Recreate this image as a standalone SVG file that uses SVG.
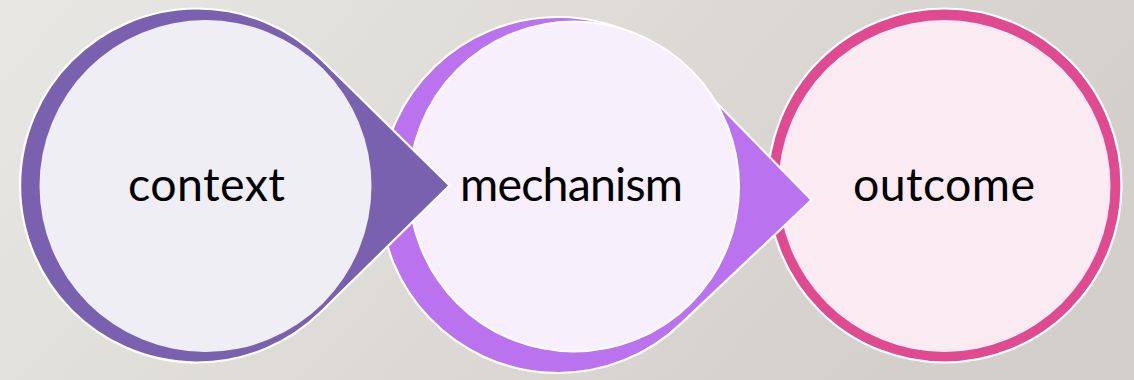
<svg xmlns="http://www.w3.org/2000/svg" width="1134" height="380" viewBox="0 0 1134 380">
  <defs>
    <linearGradient id="bg" x1="0" y1="0" x2="1" y2="0.3">
      <stop offset="0" stop-color="#E9E7E3"/>
      <stop offset="1" stop-color="#D3D0CB"/>
    </linearGradient>
  </defs>
  <style>
    .outer { stroke: #FFFFFF; stroke-width: 2.2; stroke-linejoin: miter; }
    .label { font-family: Lato, "Open Sans", "Liberation Sans", sans-serif; font-size: 46.5px; fill: #000000; text-anchor: middle; }
  </style>
  <rect x="0" y="0" width="1134" height="380" fill="url(#bg)"/>

  <g id="outcome">
    <circle class="outer" cx="944.5" cy="185.5" r="177" fill="#E04A91"/>
    <circle cx="944.5" cy="186" r="166" fill="#FAEBF2"/>
    <text class="label" x="944" y="201" textLength="182" lengthAdjust="spacing">outcome</text>
  </g>

  <g id="mechanism">
    <path class="outer" d="M 685.4,70.7 L 811.5,200 L 680.5,324.1 A 178 178 0 1 1 685.4,70.7 Z" fill="#BB72EE"/>
    <circle cx="574" cy="186.5" r="165" fill="#F7EFFC" stroke="#FFFFFF" stroke-width="2"/>
    <text class="label" x="571.5" y="201" textLength="223" lengthAdjust="spacing">mechanism</text>
  </g>

  <g id="context">
    <path class="outer" d="M 321.1,59.2 L 449.5,185.5 L 321.1,311.8 A 177 177 0 1 1 321.1,59.2 Z" fill="#7A61AF"/>
    <circle cx="205.5" cy="186" r="166" fill="#F0EEF5"/>
    <text class="label" x="206.5" y="201" textLength="157" lengthAdjust="spacing">context</text>
  </g>

  <g id="connectors"/>
</svg>
